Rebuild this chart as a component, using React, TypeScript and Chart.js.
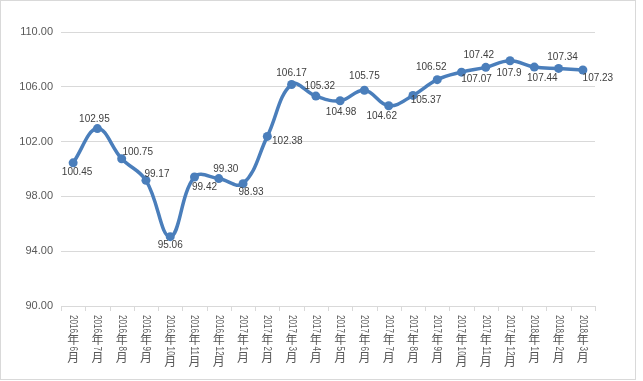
import React, { useEffect, useRef } from "react";
import { Chart, registerables } from "chart.js";

Chart.register(...registerables);

const categories = [
  "2016年6月", "2016年7月", "2016年8月", "2016年9月", "2016年10月", "2016年11月", "2016年12月",
  "2017年1月", "2017年2月", "2017年3月", "2017年4月", "2017年5月", "2017年6月", "2017年7月",
  "2017年8月", "2017年9月", "2017年10月", "2017年11月", "2017年12月",
  "2018年1月", "2018年2月", "2018年3月",
];
const values = [
  100.45, 102.95, 100.75, 99.17, 95.06, 99.42, 99.3, 98.93, 102.38, 106.17, 105.32,
  104.98, 105.75, 104.62, 105.37, 106.52, 107.07, 107.42, 107.9, 107.44, 107.34, 107.23,
];
const valueLabels = [
  "100.45", "102.95", "100.75", "99.17", "95.06", "99.42", "99.30", "98.93", "102.38", "106.17", "105.32",
  "104.98", "105.75", "104.62", "105.37", "106.52", "107.07", "107.42", "107.9", "107.44", "107.34", "107.23",
];
const yMin = 90;
const yMax = 110;
const yStep = 4;

// label placement (style): offset of label centre from point
const labelOffsets: [number, number][] = [
  [4, 9], [-3, -9], [16, -6], [11, -6], [0, 9], [10, 10], [7, -9], [8, 9], [20, 5], [0, -11], [4, -10],
  [1, 11], [0, -14], [-7, 11], [13, 5], [-6, -12], [15, 7], [-7, -12], [-1, 12], [8, 11], [4, -11], [15, 8],
];

const LINE_COLOR = "#4A7EBB";
const GRID = "#D9D9D9";

const decorPlugin = {
  id: "decor",
  afterDraw(chart: any) {
    const ctx = chart.ctx as CanvasRenderingContext2D;
    const area = chart.chartArea;
    const xs = chart.scales.x;
    ctx.save();
    // outer border
    ctx.strokeStyle = GRID;
    ctx.lineWidth = 1;
    ctx.strokeRect(0.5, 0.5, 635, 379);
    // x tick marks at category boundaries
    const n = categories.length;
    ctx.beginPath();
    for (let i = 0; i <= n; i++) {
      const p = Math.round(xs.getPixelForValue(i - 0.5)) + 0.5;
      ctx.moveTo(p, Math.round(area.bottom));
      ctx.lineTo(p, Math.round(area.bottom) + 5);
    }
    ctx.stroke();
    // vertical category labels
    ctx.fillStyle = "#595959";
    ctx.font = "11px 'Liberation Sans', 'Noto Sans CJK SC', sans-serif";
    for (let i = 0; i < n; i++) {
      const cx = xs.getPixelForValue(i);
      let y = 315;
      const lab = categories[i];
      const runs: { t: string; ascii: boolean }[] = [];
      for (const ch of lab) {
        const ascii = ch.charCodeAt(0) < 128;
        const last = runs[runs.length - 1];
        if (last && last.ascii && ascii) last.t += ch;
        else runs.push({ t: ch, ascii });
      }
      for (const r of runs) {
        if (r.ascii) {
          const w = ctx.measureText(r.t).width * 0.74;
          ctx.save();
          ctx.translate(cx, y);
          ctx.rotate(Math.PI / 2);
          ctx.scale(0.74, 1);
          ctx.textAlign = "left";
          ctx.textBaseline = "middle";
          ctx.fillText(r.t, 0, 0);
          ctx.restore();
          y += w + 1;
        } else {
          ctx.save();
          ctx.font = "12px 'Noto Sans CJK SC', sans-serif";
          ctx.textAlign = "center";
          ctx.textBaseline = "top";
          ctx.fillText(r.t, cx, y - 1);
          ctx.restore();
          y += 12.5;
        }
      }
    }
    // data labels
    const meta = chart.getDatasetMeta(0);
    ctx.fillStyle = "#404040";
    ctx.font = "10px 'Liberation Sans', sans-serif";
    ctx.textAlign = "center";
    ctx.textBaseline = "middle";
    meta.data.forEach((pt: any, i: number) => {
      const [dx, dy] = labelOffsets[i];
      ctx.fillText(valueLabels[i], pt.x + dx, pt.y + dy);
    });
    ctx.restore();
  },
};

const bgPlugin = {
  id: "bg",
  beforeDraw(chart: any) {
    const ctx = chart.ctx;
    ctx.save();
    ctx.fillStyle = "#ffffff";
    ctx.fillRect(0, 0, chart.width, chart.height);
    ctx.restore();
  },
};

export default function App() {
  const ref = useRef<HTMLCanvasElement | null>(null);
  useEffect(() => {
    if (!ref.current) return;
    const chart = new Chart(ref.current, {
      type: "line",
      data: {
        labels: categories,
        datasets: [
          {
            data: values,
            borderColor: LINE_COLOR,
            backgroundColor: LINE_COLOR,
            borderWidth: 3.5,
            pointRadius: 4.5,
            pointBackgroundColor: LINE_COLOR,
            pointBorderColor: LINE_COLOR,
            pointBorderWidth: 0,
            tension: 0.4,
            fill: false,
          },
        ],
      },
      options: {
        animation: false,
        responsive: true,
        maintainAspectRatio: false,
        layout: { padding: { left: 0, top: 32, right: 48, bottom: 75 } },
        plugins: { legend: { display: false }, tooltip: { enabled: false } },
        scales: {
          x: {
            type: "category",
            display: false,
            offset: true,
          },
          y: {
            min: yMin,
            max: yMax,
            afterFit(scale: any) {
              scale.width = 61;
            },
            border: { display: false },
            grid: { color: GRID, drawTicks: false, lineWidth: 1 },
            ticks: {
              stepSize: yStep,
              padding: 8,
              color: "#595959",
              font: { family: "'Liberation Sans', sans-serif", size: 11 },
              callback: (v: any) => Number(v).toFixed(2),
            },
          },
        },
      },
      plugins: [bgPlugin, decorPlugin],
    });
    return () => chart.destroy();
  }, []);
  return (
    <div style={{ position: "absolute", left: 0, top: 0, width: 643, height: 381 }}>
      <canvas ref={ref} />
    </div>
  );
}
